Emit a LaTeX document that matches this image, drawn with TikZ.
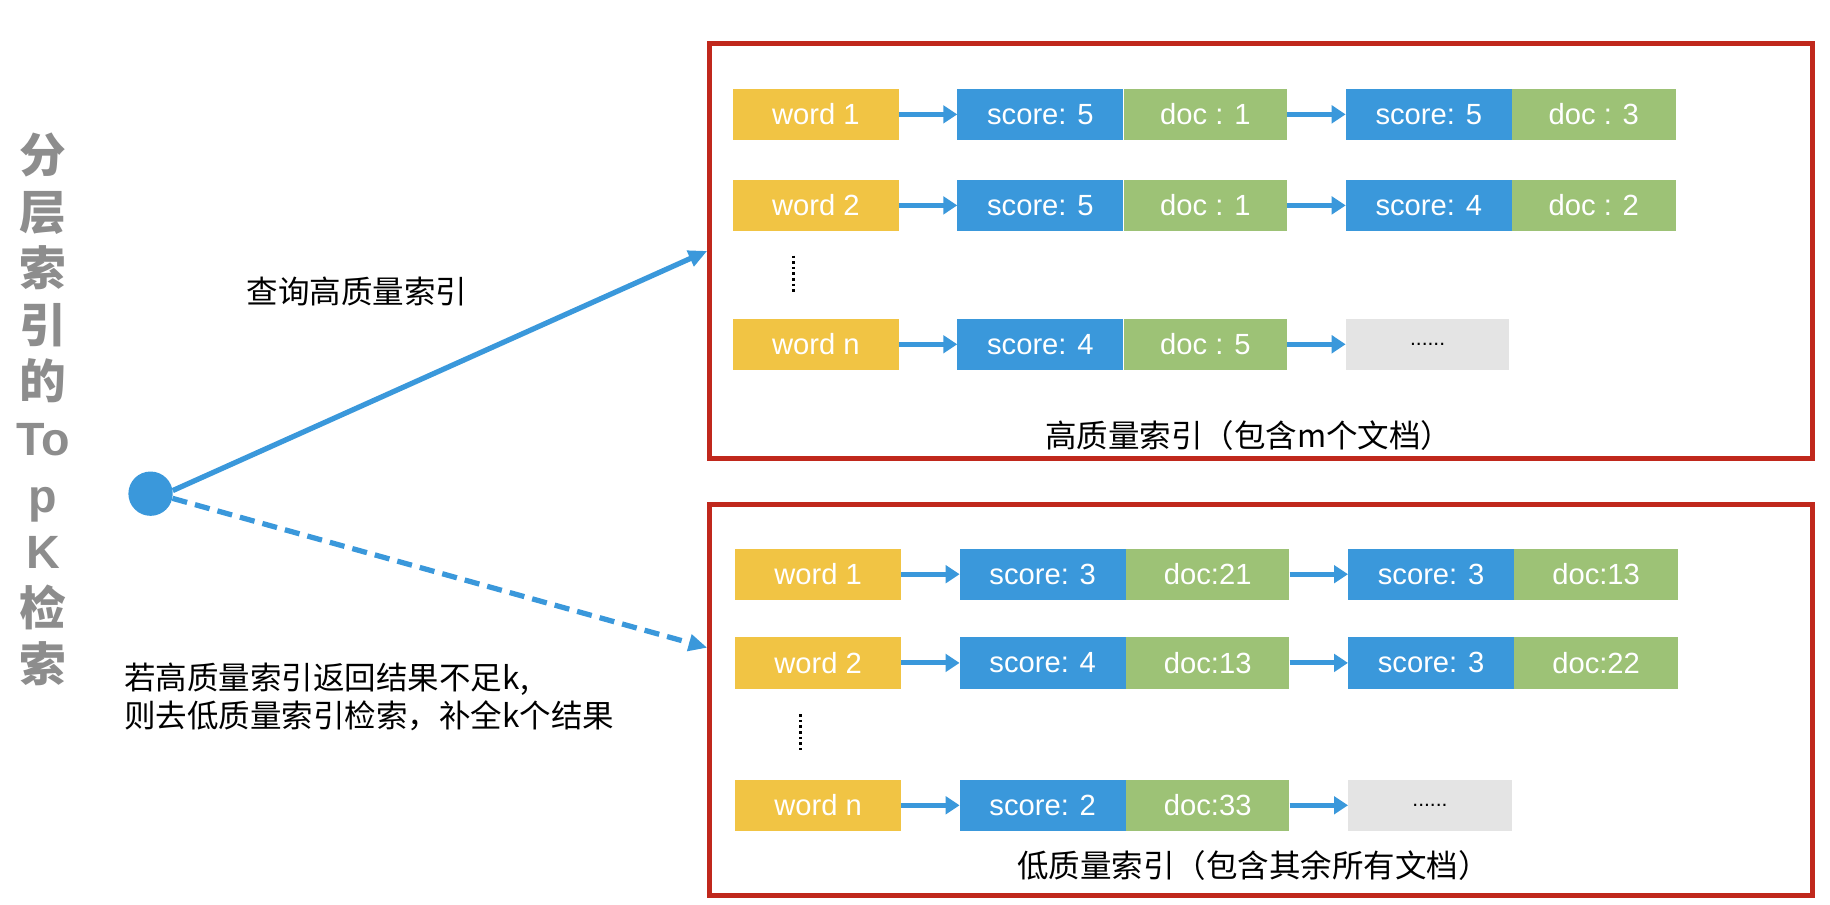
\documentclass[tikz,border=0pt]{standalone}
\usepackage{fontspec}
\setmainfont{Liberation Sans}
\newfontfamily\cjk{Noto Sans CJK SC}
\usetikzlibrary{positioning,arrows.meta}
\definecolor{wordyellow}{RGB}{241,196,68}
\definecolor{scoreblue}{RGB}{58,152,219}
\definecolor{docgreen}{RGB}{157,194,118}
\definecolor{moregray}{RGB}{228,228,228}
\definecolor{framered}{RGB}{192,40,28}
\definecolor{titlegray}{RGB}{141,141,141}
\tikzset{
	cell/.style={text=white, minimum height=44pt, inner sep=0pt, font=\fontsize{25}{30}\selectfont},
	wordbox/.style={cell, fill=wordyellow, minimum width=142pt},
	scorebox/.style={cell, fill=scoreblue, minimum width=142pt},
	docbox/.style={cell, fill=docgreen, minimum width=140pt},
	morebox/.style={cell, fill=moregray, minimum width=140pt, text=black, font=\fontsize{18}{20}\selectfont},
	hop/.style={draw=scoreblue, line width=4.2pt, -{Triangle[length=12pt,width=15pt]}},
	query/.style={draw=scoreblue, line width=4.5pt, -{Triangle[length=16pt,width=14pt]}},
	indexframe/.style={draw=framered, line width=4pt, minimum width=945pt, minimum height=356pt},
	cjklabel/.style={font=\cjk\fontsize{27}{33}\selectfont},
	gapline/.style={line width=2.2pt, dash pattern=on 2.2pt off 2.6pt}
}
\begin{document}
\begin{tikzpicture}[x=1pt,y=-1pt]
		\useasboundingbox (0,0) rectangle (1568,775);

		\node[text=titlegray, font=\bfseries\fontsize{40}{48.5}\selectfont, align=center] (title) at (37,351) {{\cjk 分}\\{\cjk 层}\\{\cjk 索}\\{\cjk 引}\\{\cjk 的}\\To\\p\\K\\{\cjk 检}\\{\cjk 索}};

		\node[indexframe] (hi) at (1080.5,215) {};
		\node[indexframe, minimum height=335pt] (lo) at (1080.5,599.5) {};

		\foreach \n/\x/\y/\word/\scA/\docA/\scB/\docB in {
			h1/699/98/word 1/score: 5/doc : 1/score: 5/doc : 3,
			h2/699/176/word 2/score: 5/doc : 1/score: 4/doc : 2,
			l1/701/492/word 1/score: 3/doc:21/score: 3/doc:13,
			l2/701/568/word 2/score: 4/doc:13/score: 3/doc:22} {
			\node[wordbox] (w\n) at (\x,\y) {\word};
			\node[scorebox, right=50pt of w\n] (s\n) {\scA};
			\node[docbox, right=0pt of s\n] (d\n) {\docA};
			\node[scorebox, right=50pt of d\n] (t\n) {\scB};
			\node[docbox, right=0pt of t\n] (e\n) {\docB};
			\draw[hop] (w\n) -- (s\n);
			\draw[hop] (d\n) -- (t\n);
		}

		\foreach \n/\x/\y/\word/\scA/\docA in {hn/699/295/word n/score: 4/doc : 5, ln/701/690/word n/score: 2/doc:33} {
			\node[wordbox] (w\n) at (\x,\y) {\word};
			\node[scorebox, right=50pt of w\n] (s\n) {\scA};
			\node[docbox, right=0pt of s\n] (d\n) {\docA};
			\node[morebox, right=50pt of d\n] (m\n) {......};
			\draw[hop] (w\n) -- (s\n);
			\draw[hop] (d\n) -- (m\n);
		}

		\draw[gapline] (680,219) -- (680,250);
		\draw[gapline] (686,612) -- (686,643);

		\node[cjklabel] (hicap) at (1070,373) {高质量索引（包含m个文档）};
		\node[cjklabel] (locap) at (1074,742) {低质量索引（包含其余所有文档）};

		\node[circle, fill=scoreblue, minimum size=38pt, inner sep=0pt] (q) at (129,423) {};
		\coordinate (lotip) at (606,555);
		\draw[query] (q.8) -- (hi.west);
		\draw[query, dash pattern=on 13pt off 7pt] (q.-12) -- (lotip);

		\node[cjklabel] (qtext) at (306,250) {查询高质量索引};
		\node[cjklabel, align=left, anchor=west] (ftext) at (103,597) {若高质量索引返回结果不足k,\\则去低质量索引检索，补全k个结果};
	\end{tikzpicture}
\end{document}
